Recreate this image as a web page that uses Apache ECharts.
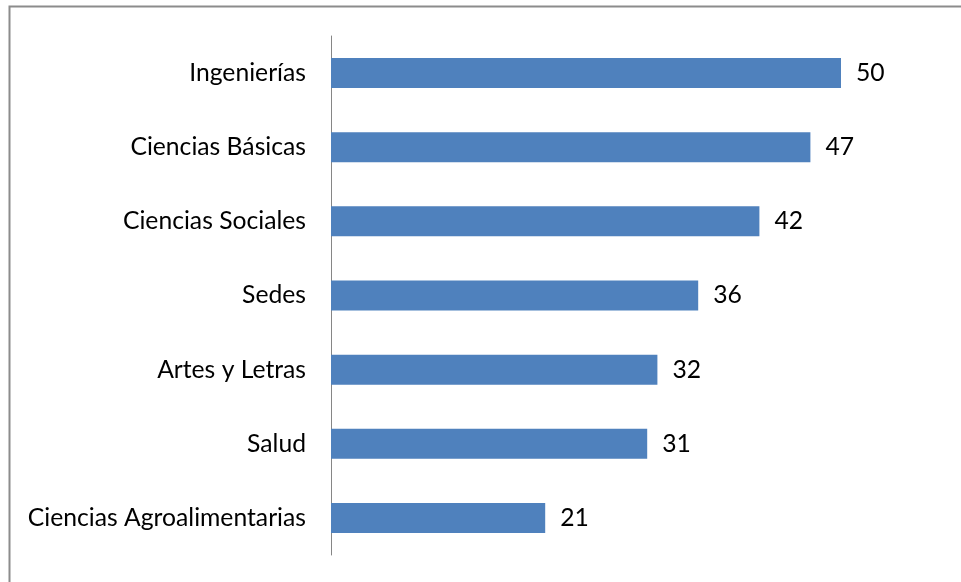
<!DOCTYPE html>
<html lang="es">
<head>
    <meta charset="UTF-8">
    <title>Bar chart</title>
    <style>
        html, body { margin: 0; padding: 0; background: #fff; }
        #main { width: 961px; height: 582px; }
    </style>
</head>
<body>
    <div id="main"></div>
<script src="https://cdn.jsdelivr.net/npm/echarts@6/dist/echarts.min.js"></script>
<script>
    // data, top to bottom as in the picture
    var categories = ['Ingenierías', 'Ciencias Básicas', 'Ciencias Sociales', 'Sedes', 'Artes y Letras', 'Salud', 'Ciencias Agroalimentarias'];
    var values = [50, 47, 42, 36, 32, 31, 21];

    var myChart = echarts.init(document.getElementById('main'));
    var font = 'Lato, "Open Sans", sans-serif';

    var option = {
        animation: false,
        graphic: [{
            type: 'rect',
            shape: { x: 9.5, y: 6.5, width: 1000, height: 700 },
            style: { fill: 'none', stroke: '#8c8c8c', lineWidth: 2 },
            silent: true
        }],
        grid: {
            left: 331,
            top: 36,
            width: 612,
            height: 519
        },
        xAxis: {
            type: 'value',
            min: 0,
            max: 60,
            show: false
        },
        yAxis: {
            type: 'category',
            inverse: true,
            data: categories,
            axisTick: { show: false },
            axisLine: { show: true, lineStyle: { color: '#868686', width: 1 } },
            axisLabel: {
                margin: 25,
                color: '#000',
                fontSize: 24.7,
                fontFamily: font,
                padding: [4, 0, 0, 0]
            }
        },
        series: [{
            type: 'bar',
            data: values,
            barWidth: 30,
            itemStyle: { color: '#4f81bd' },
            label: {
                show: true,
                position: 'right',
                distance: 15,
                color: '#000',
                fontSize: 24.7,
                fontFamily: font,
                padding: [4, 0, 0, 0]
            }
        }]
    };
    myChart.setOption(option);
</script>
</body>
</html>
